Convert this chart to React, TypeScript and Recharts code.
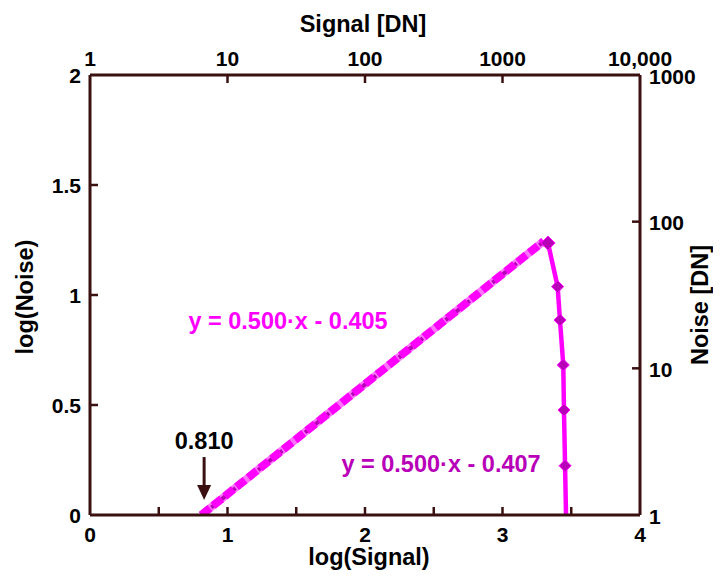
import { ComposedChart, Line, XAxis, YAxis, ReferenceDot } from 'recharts'

// measured curve (log signal, log noise)
const measured = [
  { x: 3.331, y: 1.236 },
  { x: 3.401, y: 1.038 },
  { x: 3.418, y: 0.886 },
  { x: 3.442, y: 0.682 },
  { x: 3.447, y: 0.477 },
  { x: 3.455, y: 0.224 },
  { x: 3.462, y: 0 },
]
const fitA = [
  { x: 0.81, y: 0 },
  { x: 3.3, y: 1.245 },
]
const fitB = [
  { x: 0.814, y: 0 },
  { x: 3.3, y: 1.243 },
]

const bottomTicks = [0, 0.5, 1, 1.5, 2, 2.5, 3, 3.5, 4]
const leftTicks = [0, 0.5, 1, 1.5, 2]
const topTicks = [0, 1, 2, 3, 4]
const topLabels = ['1', '10', '100', '1000', '10,000']
const rightTicks = [0, 1, 2, 3]
const rightLabels = ['1', '10', '100', '1000']

const AXIS = '#3a1010'
const MAGENTA = '#ff00ff'
const PURPLE = '#b800b8'
const FONT = '"Liberation Sans", Arial, sans-serif'
const txt = { fontFamily: FONT, fontWeight: 700, fontSize: 21, fill: '#000' }
const big = { ...txt, fontSize: 23.5 }

const BottomTick = ({ x, y, payload }: any) => {
  const v = payload.value
  return (
    <g>
      {v > 0 && v < 4 && <line x1={x} x2={x} y1={y} y2={y - 8} stroke={AXIS} strokeWidth={2.5} />}
      {Number.isInteger(v) && (
        <text x={x} y={y + 19} textAnchor="middle" dominantBaseline="central" {...txt}>{v}</text>
      )}
    </g>
  )
}

const LeftTick = ({ x, y, payload }: any) => {
  const v = payload.value
  return (
    <g>
      {v > 0 && v < 2 && <line x1={x} x2={x + 8} y1={y} y2={y} stroke={AXIS} strokeWidth={2.5} />}
      <text x={x - 9} y={y} textAnchor="end" dominantBaseline="central" {...txt}>{v}</text>
    </g>
  )
}

const TopTick = ({ x, y, payload, index }: any) => {
  const v = payload.value
  return (
    <g>
      {v > 0 && v < 4 && <line x1={x} x2={x} y1={y} y2={y + 8} stroke={AXIS} strokeWidth={2.5} />}
      <text x={x} y={y - 17} textAnchor="middle" dominantBaseline="central" {...txt}>{topLabels[index]}</text>
    </g>
  )
}

const RightTick = ({ x, y, payload, index }: any) => {
  const v = payload.value
  return (
    <g>
      {v > 0 && v < 3 && <line x1={x} x2={x - 8} y1={y} y2={y} stroke={AXIS} strokeWidth={2.5} />}
      <text x={x + 9} y={y + 1} textAnchor="start" dominantBaseline="central" {...txt}>{rightLabels[index]}</text>
    </g>
  )
}

const Diamond = (props: any) => {
  const { cx, cy, index } = props
  if (index === measured.length - 1) return <g key={`d${index}`} />
  const r = index === 0 ? 7 : 6
  return (
    <polygon
      key={`d${index}`}
      points={`${cx},${cy - r} ${cx + r},${cy} ${cx},${cy + r} ${cx - r},${cy}`}
      fill={PURPLE}
      stroke={MAGENTA}
      strokeWidth={1}
    />
  )
}

const textShape = (label: string, color: string) => (p: any) => (
  <text x={p.cx} y={p.cy} textAnchor="middle" dominantBaseline="central" {...big} fill={color}>{label}</text>
)

const arrowShape = (p: any) => (
  <g>
    <line x1={p.cx} x2={p.cx} y1={p.cy - 43} y2={p.cy - 12} stroke={AXIS} strokeWidth={3} />
    <polygon points={`${p.cx - 7},${p.cy - 15} ${p.cx + 7},${p.cy - 15} ${p.cx},${p.cy}`} fill={AXIS} />
    <text x={p.cx} y={p.cy - 59} textAnchor="middle" dominantBaseline="central" {...big}>0.810</text>
  </g>
)

const title = (value: string, where: 'left' | 'right' | 'bottom' | 'top') => ({
  content: ({ viewBox }: any) => {
    const { x, y, width, height } = viewBox
    if (where === 'left') {
      const cx = x - 5, cy = y + height / 2 + 2
      return <text x={cx} y={cy} transform={`rotate(-90 ${cx} ${cy})`} textAnchor="middle" dominantBaseline="central" {...big}>{value}</text>
    }
    if (where === 'right') {
      const cx = x + 60, cy = y + height / 2 + 10
      return <text x={cx} y={cy} transform={`rotate(-90 ${cx} ${cy})`} textAnchor="middle" dominantBaseline="central" {...big}>{value}</text>
    }
    if (where === 'bottom') {
      return <text x={x + width / 2 + 4} y={y + 42} textAnchor="middle" dominantBaseline="central" {...big}>{value}</text>
    }
    return <text x={x + width / 2 - 2} y={y + 9} textAnchor="middle" dominantBaseline="central" {...big}>{value}</text>
  },
})

export default function App() {
  return (
    <div style={{ width: 705, height: 562, background: '#fff' }}>
      <ComposedChart width={705} height={562} margin={{ top: 7, right: 13, bottom: 15, left: 22 }}>
        <XAxis
          xAxisId="bottom"
          dataKey="x"
          type="number"
          domain={[0, 4]}
          ticks={bottomTicks}
          interval={0}
          allowDataOverflow
          height={40}
          tickSize={0}
          tickMargin={0}
          tick={<BottomTick />}
          axisLine={{ stroke: AXIS, strokeWidth: 3 }}
          label={title('log(Signal)', 'bottom')}
        />
        <XAxis
          xAxisId="top"
          orientation="top"
          dataKey="x"
          type="number"
          domain={[0, 4]}
          ticks={topTicks}
          interval={0}
          allowDataOverflow
          height={60}
          tickSize={0}
          tickMargin={0}
          tick={<TopTick />}
          axisLine={{ stroke: AXIS, strokeWidth: 3 }}
          label={title('Signal [DN]', 'top')}
        />
        <YAxis
          yAxisId="left"
          type="number"
          domain={[0, 2]}
          ticks={leftTicks}
          interval={0}
          allowDataOverflow
          width={60}
          tickSize={0}
          tickMargin={0}
          tick={<LeftTick />}
          axisLine={{ stroke: AXIS, strokeWidth: 3 }}
          label={title('log(Noise)', 'left')}
        />
        <YAxis
          yAxisId="right"
          orientation="right"
          type="number"
          domain={[0, 3]}
          ticks={rightTicks}
          interval={0}
          allowDataOverflow
          width={60}
          tickSize={0}
          tickMargin={0}
          tick={<RightTick />}
          axisLine={{ stroke: AXIS, strokeWidth: 3 }}
          label={title('Noise [DN]', 'right')}
        />
        <Line
          xAxisId="bottom"
          yAxisId="left"
          data={fitA}
          dataKey="y"
          stroke={MAGENTA}
          strokeOpacity={0.55}
          strokeWidth={8}
          dot={false}
          isAnimationActive={false}
        />
        <Line
          xAxisId="top"
          yAxisId="left"
          data={fitB}
          dataKey="y"
          stroke={PURPLE}
          strokeWidth={4}
          strokeDasharray="7 5"
          dot={false}
          isAnimationActive={false}
        />
        <Line
          xAxisId="bottom"
          yAxisId="left"
          data={fitA}
          dataKey="y"
          stroke={MAGENTA}
          strokeWidth={8}
          strokeDasharray="11 4"
          dot={false}
          isAnimationActive={false}
        />
        <Line
          xAxisId="bottom"
          yAxisId="left"
          data={measured}
          dataKey="y"
          stroke={MAGENTA}
          strokeWidth={4.5}
          dot={Diamond}
          isAnimationActive={false}
        />
        <ReferenceDot xAxisId="bottom" yAxisId="left" x={1.44} y={0.882} r={0} shape={textShape('y = 0.500·x - 0.405', MAGENTA)} />
        <ReferenceDot xAxisId="bottom" yAxisId="left" x={2.553} y={0.232} r={0} shape={textShape('y = 0.500·x - 0.407', PURPLE)} />
        <ReferenceDot xAxisId="bottom" yAxisId="left" x={0.83} y={0.068} r={0} shape={arrowShape} />
        <Line xAxisId="bottom" yAxisId="right" data={[]} dataKey="y" isAnimationActive={false} />
      </ComposedChart>
    </div>
  )
}
